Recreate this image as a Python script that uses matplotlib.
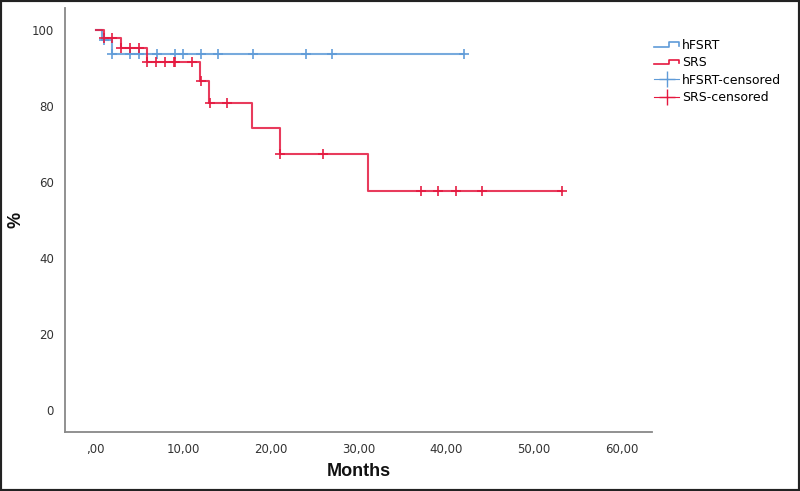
import numpy as np
import matplotlib
matplotlib.use('Agg')
import matplotlib.pyplot as plt
from matplotlib.lines import Line2D
from matplotlib.legend_handler import HandlerBase
from matplotlib.patches import Rectangle

# Kaplan-Meier steps (months, %)
hfsrt_times = [0, 0.7, 1.9, 42.0]
hfsrt_surv = [100, 97.4, 93.6, 93.6]
hfsrt_cens = [1.0, 1.9, 3.9, 4.9, 7.0, 9.0, 10.0, 12.0, 14.0, 18.0, 24.0, 27.0, 42.0]

srs_times = [0, 0.9, 2.9, 5.9, 11.9, 12.9, 17.9, 21.0, 31.1, 53.2]
srs_surv = [100, 97.8, 95.4, 91.7, 86.6, 80.9, 74.1, 67.3, 57.7, 57.7]
srs_cens = [1.0, 1.9, 2.9, 3.9, 4.9, 5.9, 6.9, 7.9, 8.9, 9.0, 11.0, 12.0, 13.0,
            15.0, 21.0, 26.0, 37.1, 39.1, 41.1, 44.1, 53.2]

x_ticks = [0, 10, 20, 30, 40, 50, 60]
x_labels = [',00', '10,00', '20,00', '30,00', '40,00', '50,00', '60,00']
y_ticks = [0, 20, 40, 60, 80, 100]

blue = '#5f9bd8'
red = '#e5183f'


def surv_at(times, surv, t):
    idx = np.searchsorted(times, t, side='right') - 1
    return np.array(surv)[idx]


class StepHandler(HandlerBase):
    def create_artists(self, legend, orig_handle, xdescent, ydescent,
                       width, height, fontsize, trans):
        x0 = -xdescent
        y0 = -ydescent
        xs = [x0, x0 + width * 0.6, x0 + width * 0.6, x0 + width, x0 + width]
        ys = [y0 + height * 0.25, y0 + height * 0.25, y0 + height * 0.75,
              y0 + height * 0.75, y0 + height * 0.4]
        ln = Line2D(xs, ys, color=orig_handle.get_color(), lw=1.2)
        ln.set_transform(trans)
        return [ln]


fig = plt.figure(figsize=(8, 4.91), dpi=100)
ax = fig.add_axes([65 / 800, 1 - 432 / 491, (652 - 65) / 800, (432 - 8) / 491])

ax.step(hfsrt_times, hfsrt_surv, where='post', color=blue, lw=1.5, alpha=0.85)
ax.step(srs_times, srs_surv, where='post', color=red, lw=1.5, alpha=0.85)
ax.plot(hfsrt_cens, surv_at(hfsrt_times, hfsrt_surv, hfsrt_cens), '+',
        color=blue, ms=6.5, mew=1.3, alpha=0.9)
ax.plot(srs_cens, surv_at(srs_times, srs_surv, srs_cens), '+',
        color=red, ms=6.5, mew=1.3, alpha=0.9)

ax.set_xlim(-3.5, 63.5)
ax.set_ylim(-5.8, 105.8)
ax.set_xticks(x_ticks)
ax.set_xticklabels(x_labels)
ax.set_yticks(y_ticks)
ax.tick_params(length=0, labelsize=8.5, colors='#333333', pad=8)
for s in ['top', 'right']:
    ax.spines[s].set_visible(False)
for s in ['left', 'bottom']:
    ax.spines[s].set_color('#888888')
    ax.spines[s].set_linewidth(1.3)

ax.set_xlabel('Months', fontsize=13, fontweight='bold', family='Liberation Sans',
              color='#111111')
ax.set_ylabel('%', fontsize=13, fontweight='bold', family='Liberation Sans',
              color='#111111')
ax.xaxis.set_label_coords((359 - 65) / (652 - 65), -(472 - 432) / (432 - 8))
ax.yaxis.set_label_coords(-(65 - 16) / (652 - 65), (432 - 220) / (432 - 8))
ax.xaxis.label.set_va('center')
ax.yaxis.label.set_va('center')

handles = [Line2D([], [], color=blue), Line2D([], [], color=red),
           Line2D([], [], color=blue, marker='+', ms=11, mew=1, lw=0.8),
           Line2D([], [], color=red, marker='+', ms=11, mew=1, lw=0.8)]
labels = ['hFSRT', 'SRS', 'hFSRT-censored', 'SRS-censored']
fig.legend(handles, labels, loc='upper left', bbox_to_anchor=(654 / 800, 1 - 39 / 491),
           frameon=False, fontsize=9, handlelength=2.0, handletextpad=0.25,
           labelspacing=0.35, borderpad=0, borderaxespad=0,
           handler_map={handles[0]: StepHandler(), handles[1]: StepHandler()})

fig.patches.append(Rectangle((0, 0), 1, 1, transform=fig.transFigure, fill=False,
                             edgecolor='#222222', lw=3))

fig.savefig('out.png', dpi=100)
